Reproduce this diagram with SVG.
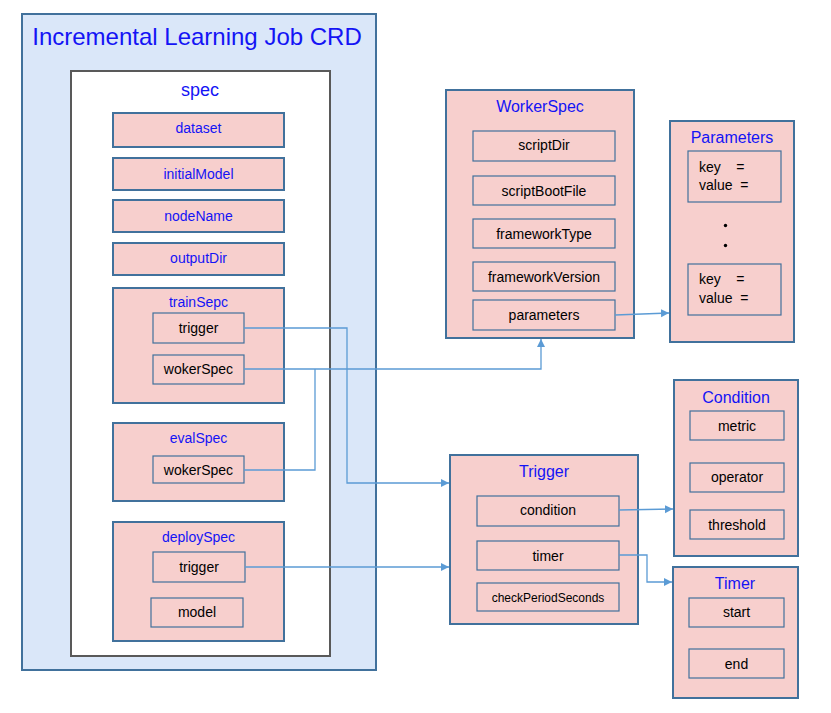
<svg xmlns="http://www.w3.org/2000/svg" width="831" height="713" viewBox="0 0 831 713">
<style>
text{font-family:"Liberation Sans",Arial,sans-serif;text-anchor:middle}
.t{fill:#1414F5}
.i{fill:#000;font-size:14px}
.box{fill:#F7CFCD;stroke:#41719C;stroke-width:2}
.in{fill:#F7CFCD;stroke:#41719C;stroke-width:1.2}
.c{fill:none;stroke:#5B9BD5;stroke-width:1.3}
</style>
<defs>
<marker id="ar" markerUnits="userSpaceOnUse" markerWidth="9" markerHeight="9" refX="8" refY="4" orient="auto">
<path d="M0,0 L8,4 L0,8 Z" fill="#5B9BD5"/>
</marker>
</defs>
<rect width="831" height="713" fill="#fff"/>
<g id="crd">
<rect x="22" y="14" width="354" height="656" fill="#DAE7F9" stroke="#41719C" stroke-width="2"/>
<text class="t" x="197" y="45" font-size="24">Incremental Learning Job CRD</text>
</g>
<g id="spec">
<rect x="71" y="71" width="259" height="585" fill="#fff" stroke="#595959" stroke-width="2"/>
<text class="t" x="200" y="96" font-size="18">spec</text>
</g>
<g id="dataset"><rect class="box" x="113" y="113" width="171" height="34"/><text class="t" x="198.5" y="133" font-size="14">dataset</text></g>
<g id="initialModel"><rect class="box" x="113" y="158" width="171" height="32"/><text class="t" x="198.5" y="179" font-size="14">initialModel</text></g>
<g id="nodeName"><rect class="box" x="113" y="200" width="171" height="32"/><text class="t" x="198.5" y="221" font-size="14">nodeName</text></g>
<g id="outputDir"><rect class="box" x="113" y="243" width="171" height="32"/><text class="t" x="198.5" y="263" font-size="14">outputDir</text></g>
<g id="trainSepc">
<rect class="box" x="113" y="288" width="171" height="115"/>
<text class="t" x="198.5" y="307" font-size="14">trainSepc</text>
<rect class="in" x="153" y="313" width="91" height="30"/><text class="i" x="198.5" y="333">trigger</text>
<rect class="in" x="153" y="355" width="91" height="29"/><text class="i" x="198.5" y="374">wokerSpec</text>
</g>
<g id="evalSpec">
<rect class="box" x="113" y="423" width="171" height="78"/>
<text class="t" x="198.5" y="443" font-size="14">evalSpec</text>
<rect class="in" x="153" y="456" width="91" height="27"/><text class="i" x="198.5" y="475">wokerSpec</text>
</g>
<g id="deploySpec">
<rect class="box" x="113" y="522" width="171" height="119"/>
<text class="t" x="198.5" y="542" font-size="14">deploySpec</text>
<rect class="in" x="153" y="552" width="92" height="30"/><text class="i" x="199" y="572">trigger</text>
<rect class="in" x="151" y="598" width="92" height="29"/><text class="i" x="197" y="617">model</text>
</g>
<g id="WorkerSpec">
<rect class="box" x="446" y="90" width="188" height="248"/>
<text class="t" x="540" y="112" font-size="16">WorkerSpec</text>
<rect class="in" x="473" y="131" width="142" height="30"/><text class="i" x="544" y="150">scriptDir</text>
<rect class="in" x="473" y="176" width="142" height="29"/><text class="i" x="544" y="196">scriptBootFile</text>
<rect class="in" x="473" y="219" width="142" height="29"/><text class="i" x="544" y="239">frameworkType</text>
<rect class="in" x="473" y="262" width="142" height="29"/><text class="i" x="544" y="282">frameworkVersion</text>
<rect class="in" x="473" y="300" width="142" height="30"/><text class="i" x="544" y="320">parameters</text>
</g>
<g id="Parameters">
<rect class="box" x="670" y="121" width="124" height="221"/>
<text class="t" x="732" y="143" font-size="16">Parameters</text>
<rect class="in" x="688" y="151" width="93" height="51"/>
<text class="i" x="699" y="172" style="text-anchor:start" xml:space="preserve">key    =</text>
<text class="i" x="699" y="190" style="text-anchor:start" xml:space="preserve">value  =</text>
<circle cx="725.5" cy="225.5" r="1.7" fill="#000"/>
<circle cx="725.5" cy="245.5" r="1.7" fill="#000"/>
<rect class="in" x="688" y="264" width="93" height="51"/>
<text class="i" x="699" y="284" style="text-anchor:start" xml:space="preserve">key    =</text>
<text class="i" x="699" y="303" style="text-anchor:start" xml:space="preserve">value  =</text>
</g>
<g id="Trigger">
<rect class="box" x="450" y="455" width="188" height="169"/>
<text class="t" x="544" y="477" font-size="16">Trigger</text>
<rect class="in" x="477" y="496" width="142" height="30"/><text class="i" x="548" y="515">condition</text>
<rect class="in" x="477" y="541" width="142" height="29"/><text class="i" x="548" y="561">timer</text>
<rect class="in" x="477" y="583" width="142" height="28"/><text class="i" x="548" y="602" style="font-size:12px">checkPeriodSeconds</text>
</g>
<g id="Condition">
<rect class="box" x="674" y="380" width="124" height="176"/>
<text class="t" x="736" y="403" font-size="16">Condition</text>
<rect class="in" x="690" y="411" width="94" height="29"/><text class="i" x="737" y="431">metric</text>
<rect class="in" x="690" y="463" width="94" height="29"/><text class="i" x="737" y="482">operator</text>
<rect class="in" x="690" y="510" width="94" height="29"/><text class="i" x="737" y="530">threshold</text>
</g>
<g id="Timer">
<rect class="box" x="673" y="567" width="125" height="131"/>
<text class="t" x="735" y="589" font-size="16">Timer</text>
<rect class="in" x="689" y="598" width="95" height="29"/><text class="i" x="736.5" y="617">start</text>
<rect class="in" x="689" y="649" width="95" height="29"/><text class="i" x="736.5" y="669">end</text>
</g>
<g id="connectors">
<polyline class="c" points="244,328 347,328 347,483 449,483" marker-end="url(#ar)"/>
<polyline class="c" points="244,369 541,369 541,339" marker-end="url(#ar)"/>
<polyline class="c" points="244,470 315,470 315,369"/>
<polyline class="c" points="245,567 449,567" marker-end="url(#ar)"/>
<polyline class="c" points="615,315 669,313" marker-end="url(#ar)"/>
<polyline class="c" points="619,510 673,509" marker-end="url(#ar)"/>
<polyline class="c" points="619,555 647,555 647,582 672,582" marker-end="url(#ar)"/>
</g>
</svg>
